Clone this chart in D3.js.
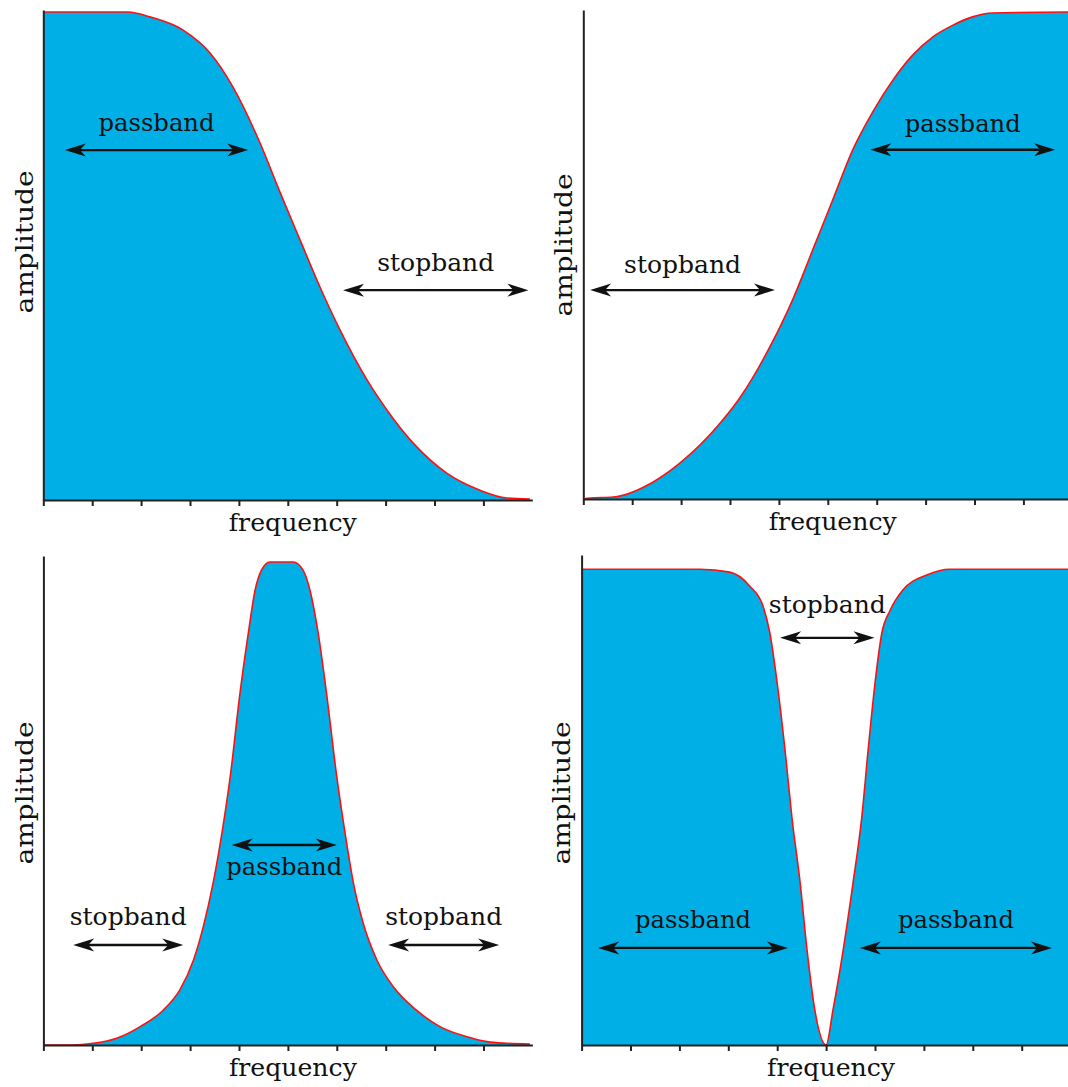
<!DOCTYPE html>
<html>
<head>
<meta charset="utf-8">
<script src="https://cdn.jsdelivr.net/npm/d3@7"></script>
<style>
  html, body { margin: 0; padding: 0; background: #ffffff; }
  svg { display: block; }
  text { font-family: "DejaVu Serif", "Liberation Serif", serif; fill: #111; }
</style>
</head>
<body>
<svg id="chart" width="1068" height="1087"></svg>
<script>
// ---------------- DATA ----------------
const freqTicks = [0, 1, 2, 3, 4, 5, 6, 7, 8, 9];

// Low-pass response
const lowpassFreq = [0, 1.73, 2.18, 2.86, 3.41, 3.88, 4.43, 4.84, 5.25, 5.66, 6.07, 6.62, 7.03, 7.56, 8.25, 8.93, 9.48, 9.95];
const lowpassAmp  = [1, 1, 0.990, 0.963, 0.916, 0.846, 0.732, 0.631, 0.533, 0.436, 0.348, 0.246, 0.184, 0.117, 0.055, 0.020, 0.004, 0.002];

// High-pass response
const highpassFreq = [0, 0.14, 0.61, 1.43, 1.98, 2.80, 3.21, 3.75, 4.28, 4.69, 5.10, 5.51, 5.92, 6.33, 6.74, 7.15, 7.56, 7.96, 8.37, 9.95];
const highpassAmp  = [0, 0.002, 0.004, 0.035, 0.074, 0.156, 0.209, 0.300, 0.409, 0.511, 0.614, 0.717, 0.795, 0.860, 0.912, 0.949, 0.973, 0.990, 0.998, 1.0];

// Band-pass response
const bandpassFreq = [0, 0.6, 1.02, 1.50, 1.98, 2.45, 2.79, 3.07, 3.27, 3.47, 3.65, 3.82, 4.02, 4.19, 4.33, 4.46, 4.63, 5.11, 5.31, 5.45, 5.62, 5.79, 6.00, 6.17, 6.34, 6.54, 6.82, 7.16, 7.63, 8.11, 8.66, 9.07, 9.47, 9.95];
const bandpassAmp  = [0, 0, 0.0035, 0.014, 0.038, 0.072, 0.114, 0.176, 0.245, 0.335, 0.438, 0.555, 0.728, 0.852, 0.942, 0.983, 1.0, 1.0, 0.983, 0.942, 0.852, 0.728, 0.555, 0.438, 0.335, 0.252, 0.176, 0.120, 0.072, 0.038, 0.017, 0.007, 0.0035, 0.002];

// Band-stop (notch) response
const bandstopFreq = [0, 2.42, 3.03, 3.44, 3.71, 3.85, 4.00, 4.16, 4.30, 4.47, 4.61, 4.77, 5.00, 5.14, 5.35, 5.55, 5.73, 5.86, 6.00, 6.14, 6.31, 6.57, 7.06, 7.53, 9.95];
const bandstopAmp  = [0.985, 0.985, 0.979, 0.950, 0.909, 0.853, 0.749, 0.611, 0.472, 0.335, 0.197, 0.072, 0, 0.072, 0.197, 0.335, 0.472, 0.611, 0.749, 0.853, 0.900, 0.942, 0.973, 0.985, 0.985];

// Band annotations: [label, freqStart, freqEnd, amplitude level]
const lowpassBands  = [["passband", 0.44, 4.19, 0.717], ["stopband", 6.13, 9.92, 0.430]];
const highpassBands = [["stopband", 0.14, 3.92, 0.429], ["passband", 5.87, 9.65, 0.717]];
const bandpassBands = [["passband", 3.85, 6.00, 0.414], ["stopband", 0.61, 2.86, 0.207], ["stopband", 7.05, 9.32, 0.207]];
const bandstopBands = [["stopband", 4.06, 5.99, 0.843], ["passband", 0.34, 4.22, 0.201], ["passband", 5.69, 9.62, 0.201]];

const xLabel = "frequency";
const yLabel = "amplitude";

// ---------------- LAYOUT ----------------
const panels = [
  { freq: lowpassFreq,  amp: lowpassAmp,  bands: lowpassBands,  ox: 43.3,  oy: 500,  top: 12,  axisTop: 10,  labelOffsets: [-19, -19], ampX: 33,  ampY: 242 },
  { freq: highpassFreq, amp: highpassAmp, bands: highpassBands, ox: 583.3, oy: 499,  top: 12,  axisTop: 10,  labelOffsets: [-17, -18], ampX: 572, ampY: 245 },
  { freq: bandpassFreq, amp: bandpassAmp, bands: bandpassBands, ox: 43.4,  oy: 1045, top: 562, axisTop: 556, labelOffsets: [30, -20, -20], ampX: 33,  ampY: 793 },
  { freq: bandstopFreq, amp: bandstopAmp, bands: bandstopBands, ox: 581.6, oy: 1045, top: 562, axisTop: 555, labelOffsets: [-25, -20, -20], ampX: 570, ampY: 793 }
];
const unitPx = 48.9;
const textLen = { passband: 116, stopband: 117 };

const svg = d3.select("#chart");
const fillColor = "#00afe6";
const curveColor = "#ff1010";
const inkColor = "#111111";

function arrowHead(tx, ty, dir) {
  // dir = +1 -> points left (tip at tx), -1 -> points right
  const L = 21, H = 6.5, N = 15;
  return `M${tx},${ty} L${tx + dir * L},${ty - H} L${tx + dir * N},${ty} L${tx + dir * L},${ty + H} Z`;
}

panels.forEach(p => {
  const x = d3.scaleLinear().domain([0, 10]).range([p.ox, p.ox + 10 * unitPx]);
  const y = d3.scaleLinear().domain([0, 1]).range([p.oy, p.top]);
  const pts = p.freq.map((f, i) => [f, p.amp[i]]);

  const g = svg.append("g");

  const area = d3.area()
    .x(d => x(d[0])).y0(y(0)).y1(d => y(d[1]))
    .curve(d3.curveMonotoneX);
  const line = d3.line()
    .x(d => x(d[0])).y(d => y(d[1]))
    .curve(d3.curveMonotoneX);

  g.append("path").datum(pts).attr("d", area).attr("fill", fillColor);
  g.append("path").datum(pts).attr("d", line)
    .attr("fill", "none").attr("stroke", curveColor).attr("stroke-width", 1.6);

  // x axis
  const xAxis = d3.axisBottom(x).tickValues(freqTicks).tickSize(6).tickSizeOuter(0).tickFormat("");
  const gx = g.append("g").attr("transform", `translate(0,${p.oy})`).call(xAxis);
  gx.select(".domain").attr("stroke", "#222").attr("stroke-width", 2);
  gx.selectAll(".tick line").attr("stroke", "#222").attr("stroke-width", 2);

  // y axis
  const yAxisScale = d3.scaleLinear().domain([0, 1]).range([p.oy, p.axisTop]);
  const yAxis = d3.axisLeft(yAxisScale).tickValues([]).tickSizeOuter(0);
  const gy = g.append("g").attr("transform", `translate(${p.ox},0)`).call(yAxis);
  gy.select(".domain").attr("stroke", "#222").attr("stroke-width", 2);

  // axis titles
  g.append("text")
    .attr("x", x(5) + 5).attr("y", p.oy + 31)
    .attr("text-anchor", "middle")
    .attr("font-size", 24)
    .attr("textLength", 128).attr("lengthAdjust", "spacingAndGlyphs")
    .text(xLabel);

  g.append("text")
    .attr("transform", `translate(${p.ampX},${p.ampY}) rotate(-90)`)
    .attr("text-anchor", "middle")
    .attr("font-size", 24)
    .attr("textLength", 143).attr("lengthAdjust", "spacingAndGlyphs")
    .text(yLabel);

  // band annotations
  p.bands.forEach((b, i) => {
    const [label, f0, f1, lvl] = b;
    const x0 = x(f0), x1 = x(f1), yy = y(lvl);
    g.append("line")
      .attr("x1", x0 + 14).attr("x2", x1 - 14)
      .attr("y1", yy).attr("y2", yy)
      .attr("stroke", inkColor).attr("stroke-width", 2.4);
    g.append("path").attr("d", arrowHead(x0, yy, 1)).attr("fill", inkColor);
    g.append("path").attr("d", arrowHead(x1, yy, -1)).attr("fill", inkColor);
    g.append("text")
      .attr("x", (x0 + x1) / 2).attr("y", yy + p.labelOffsets[i])
      .attr("text-anchor", "middle")
      .attr("font-size", 24)
      .attr("textLength", textLen[label]).attr("lengthAdjust", "spacingAndGlyphs")
      .text(label);
  });
});
</script>
</body>
</html>
